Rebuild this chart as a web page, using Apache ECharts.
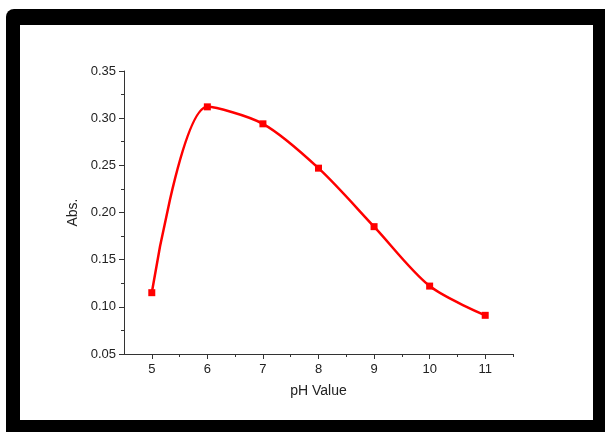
<!DOCTYPE html>
<html>
<head>
<meta charset="utf-8">
<script src="https://cdn.jsdelivr.net/npm/echarts@6/dist/echarts.min.js"></script>
<style>
  html, body { margin: 0; padding: 0; background: #fff; }
  #chart { width: 605px; height: 432px; }
</style>
</head>
<body>
<div id="chart"></div>
<script>
// 数据
var phValues = [5, 6, 7, 8, 9, 10, 11];
var absValues = [0.115, 0.312, 0.294, 0.247, 0.185, 0.122, 0.091];
var xTicks = [5, 6, 7, 8, 9, 10, 11];
var xMinorTicks = [5.5, 6.5, 7.5, 8.5, 9.5, 10.5, 11.5];

var chart = echarts.init(document.getElementById('chart'));

var points = phValues.map(function (x, i) { return [x, absValues[i]]; });

var axisColor = '#333';
var font = 'Liberation Sans, Arial, sans-serif';

var option = {
  animation: false,
  backgroundColor: '#fff',
  // 黑色外框
  graphic: [
    {
      type: 'rect', z: -10, silent: true,
      shape: { x: 6, y: 9, width: 620, height: 440, r: 8 },
      style: { fill: '#000' }
    },
    {
      type: 'rect', z: -9, silent: true,
      shape: { x: 20, y: 25, width: 573, height: 395 },
      style: { fill: '#fff' }
    }
  ],
  grid: { left: 124, right: 92, top: 71, bottom: 78 },
  xAxis: [
    {
      type: 'value',
      min: 4.5,
      max: 11.5,
      name: 'pH Value',
      nameLocation: 'middle',
      nameGap: 30,
      nameTextStyle: { fontFamily: font, fontSize: 14, color: '#222' },
      axisLine: { lineStyle: { color: axisColor, width: 1 } },
      axisTick: { show: true, length: 5, customValues: xTicks, lineStyle: { color: axisColor } },
      axisLabel: { customValues: xTicks, margin: 9, fontFamily: font, fontSize: 13, color: '#222' },
      splitLine: { show: false }
    },
    {
      type: 'value',
      min: 4.5,
      max: 11.5,
      position: 'bottom',
      axisLine: { show: false },
      axisTick: { show: true, length: 3, customValues: xMinorTicks, lineStyle: { color: axisColor } },
      axisLabel: { show: false },
      splitLine: { show: false }
    }
  ],
  yAxis: {
    type: 'value',
    min: 0.05,
    max: 0.35,
    interval: 0.05,
    name: 'Abs.',
    nameLocation: 'middle',
    nameGap: 41,
    nameTextStyle: { fontFamily: font, fontSize: 14, color: '#222' },
    axisLine: { show: true, lineStyle: { color: axisColor, width: 1 } },
    axisTick: { show: true, length: 5, lineStyle: { color: axisColor } },
    minorTick: { show: true, splitNumber: 2, length: 3, lineStyle: { color: axisColor } },
    axisLabel: {
      margin: 8,
      fontFamily: font,
      fontSize: 13,
      color: '#222',
      formatter: function (v) { return v.toFixed(2); }
    },
    splitLine: { show: false }
  },
  series: [{
    type: 'line',
    xAxisIndex: 0,
    data: points,
    smooth: 0.3,
    symbol: 'rect',
    symbolSize: 7,
    lineStyle: { color: '#ff0000', width: 2.5 },
    itemStyle: { color: '#ff0000' }
  }]
};

chart.setOption(option);
</script>
</body>
</html>
